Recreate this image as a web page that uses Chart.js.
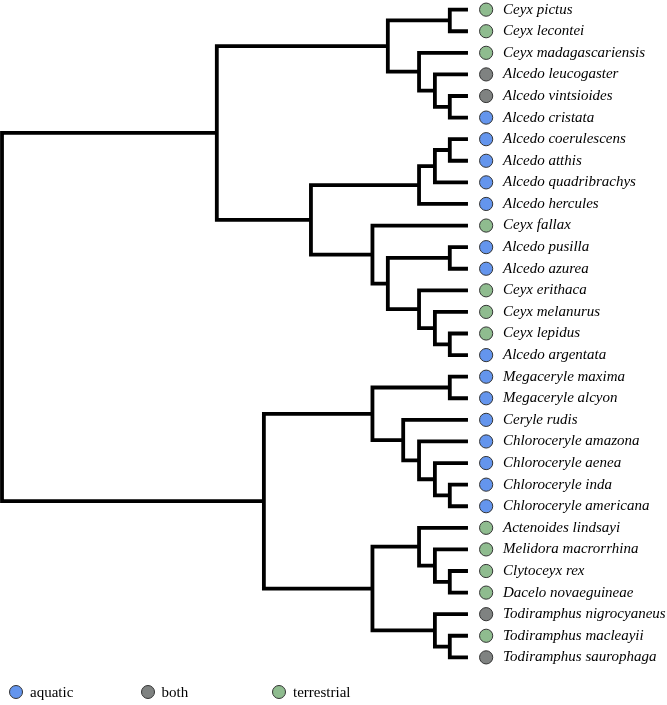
<!DOCTYPE html>
<html>
<head>
<meta charset="utf-8">
<script src="https://cdn.jsdelivr.net/npm/chart.js@4.4.1/dist/chart.umd.min.js"></script>
<style>
  html, body { margin: 0; padding: 0; background: #fff; }
  #wrap { position: relative; width: 667px; height: 705px; }
  #legend { position: absolute; left: 9px; top: 682px; display: flex;
            font: 15px 'Liberation Serif', 'Times New Roman', serif; color: #000; }
  #legend .item { width: 131.5px; height: 20px; display: flex; align-items: center; }
  #legend .dot { width: 12px; height: 12px; border-radius: 50%; border: 1px solid #333; margin-right: 7px; }
</style>
</head>
<body>
<div id="wrap">
  <canvas id="tree" width="667" height="705"></canvas>
  <div id="legend"></div>
</div>
<script>
// ============================================================
// Árbol filogenético (martines pescadores) con Chart.js
// ============================================================

// Especies (de arriba a abajo) y su hábitat
const species = [
  'Ceyx pictus', 'Ceyx lecontei', 'Ceyx madagascariensis', 'Alcedo leucogaster',
  'Alcedo vintsioides', 'Alcedo cristata', 'Alcedo coerulescens', 'Alcedo atthis',
  'Alcedo quadribrachys', 'Alcedo hercules', 'Ceyx fallax', 'Alcedo pusilla',
  'Alcedo azurea', 'Ceyx erithaca', 'Ceyx melanurus', 'Ceyx lepidus',
  'Alcedo argentata', 'Megaceryle maxima', 'Megaceryle alcyon', 'Ceryle rudis',
  'Chloroceryle amazona', 'Chloroceryle aenea', 'Chloroceryle inda', 'Chloroceryle americana',
  'Actenoides lindsayi', 'Melidora macrorrhina', 'Clytoceyx rex', 'Dacelo novaeguineae',
  'Todiramphus nigrocyaneus', 'Todiramphus macleayii', 'Todiramphus saurophaga'
];
const habitat = [
  'terrestrial', 'terrestrial', 'terrestrial', 'both',
  'both', 'aquatic', 'aquatic', 'aquatic',
  'aquatic', 'aquatic', 'terrestrial', 'aquatic',
  'aquatic', 'terrestrial', 'terrestrial', 'terrestrial',
  'aquatic', 'aquatic', 'aquatic', 'aquatic',
  'aquatic', 'aquatic', 'aquatic', 'aquatic',
  'terrestrial', 'terrestrial', 'terrestrial', 'terrestrial',
  'both', 'terrestrial', 'both'
];
const habitatNames = ['aquatic', 'both', 'terrestrial'];

// Clados en postorden: hijos (número = especie, 'cN' = clado N) y profundidad (0 = raíz, 100 = puntas)
const cladeA = [0, 4, 3, 2, 'c0', 6, 'c5', 'c6', 11, 15, 14, 13, 'c8', 10, 'c7',
                'c4', 17, 22, 21, 20, 19, 'c16', 26, 25, 24, 29, 28, 'c24', 'c21', 'c15'];
const cladeB = [1, 5, 'c1', 'c2', 'c3', 7, 8, 9, 12, 16, 'c9', 'c10', 'c11', 'c12', 'c13',
                'c14', 18, 23, 'c17', 'c18', 'c19', 'c20', 27, 'c22', 'c23', 30, 'c25', 'c26', 'c27', 'c28'];
const cladeDepth = [96.1, 96.1, 92.9, 89.5, 82.8, 96.1, 92.9, 89.5, 96.1, 96.1, 92.9, 89.5, 82.8, 79.5, 66.3,
                    46.1, 96.1, 96.1, 92.9, 89.5, 86.1, 79.5, 96.1, 92.9, 89.5, 96.1, 92.9, 79.5, 56.2, 0];

const TIP = 100;
const MARK = 103.9;
const colores = { aquatic: '#6495ED', both: '#7F8281', terrestrial: '#8FBC8F' };

// Posiciones de los clados (y = media de los hijos)
const cladePos = [];
const at = (ref) => typeof ref === 'number' ? { x: TIP, y: ref } : cladePos[+ref.slice(1)];

let ramas = [];
cladeA.forEach(function(a, i) {
  let p = at(a), q = at(cladeB[i]), d = cladeDepth[i];
  cladePos[i] = { x: d, y: (p.y + q.y) / 2 };
  ramas.push({
    type: 'line',
    data: [{ x: p.x, y: p.y }, { x: d, y: p.y }, { x: d, y: q.y }, { x: q.x, y: q.y }],
    borderColor: '#000',
    borderWidth: 3.8,
    borderJoinStyle: 'miter',
    borderCapStyle: 'butt',
    pointRadius: 0,
    tension: 0,
    fill: false,
    clip: false
  });
});

let marcas = habitatNames.map(h => ({
  type: 'scatter',
  label: h,
  inLegend: true,
  data: species.map((s, i) => i).filter(i => habitat[i] === h).map(i => ({ x: MARK, y: i })),
  pointRadius: 6.6,
  pointBackgroundColor: colores[h],
  backgroundColor: colores[h],
  pointBorderColor: '#333',
  pointBorderWidth: 1,
  clip: false
}));

// Leyenda HTML con ancho fijo por elemento
const htmlLegend = {
  id: 'htmlLegend',
  afterUpdate(chart) {
    const box = document.getElementById('legend');
    box.innerHTML = '';
    chart.data.datasets.filter(d => d.inLegend).forEach(d => {
      const item = document.createElement('div');
      item.className = 'item';
      const dot = document.createElement('span');
      dot.className = 'dot';
      dot.style.background = d.backgroundColor;
      const txt = document.createElement('span');
      txt.textContent = d.label;
      item.appendChild(dot);
      item.appendChild(txt);
      box.appendChild(item);
    });
  }
};

new Chart(document.getElementById('tree'), {
  type: 'scatter',
  data: { datasets: marcas.concat(ramas) },
  options: {
    responsive: false,
    animation: false,
    events: [],
    layout: { autoPadding: false, padding: { left: 2, top: 1, right: 0, bottom: 39 } },
    plugins: { legend: { display: false }, tooltip: { enabled: false } },
    scales: {
      x: { type: 'linear', min: 0, max: 105.8, display: false },
      y: {
        type: 'linear',
        position: 'right',
        reverse: true,
        min: -0.4,
        max: 30.4,
        grid: { display: false, drawTicks: false },
        border: { display: false },
        afterBuildTicks: s => { s.ticks = species.map((_, i) => ({ value: i })); },
        afterFit: s => { s.width = 172; s.paddingTop = 0; s.paddingBottom = 0; },
        ticks: {
          autoSkip: false,
          padding: 8,
          color: '#000',
          font: { family: "'Liberation Serif', 'Times New Roman', serif", style: 'italic', size: 15 },
          callback: v => species[v] || ''
        }
      }
    }
  },
  plugins: [htmlLegend]
});
</script>
</body>
</html>
